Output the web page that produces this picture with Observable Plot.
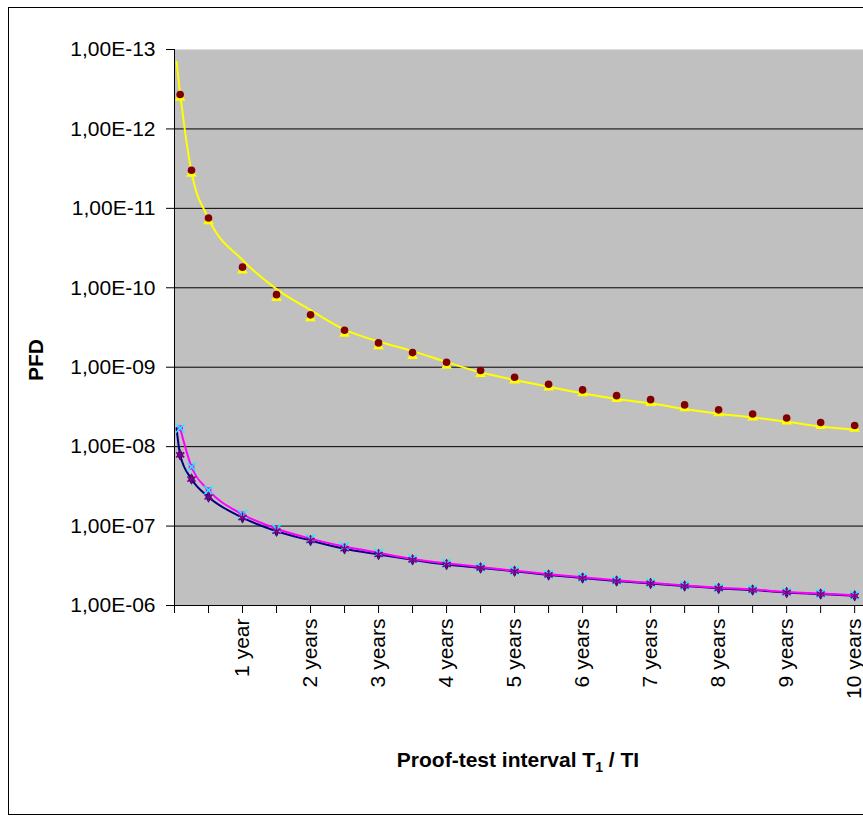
<!DOCTYPE html>
<html><head><meta charset="utf-8">
<script src="https://cdn.jsdelivr.net/npm/d3@7"></script>
<script src="https://cdn.jsdelivr.net/npm/@observablehq/plot@0.6"></script>
<style>
html,body{margin:0;padding:0;overflow:hidden;background:#fff;width:863px;height:823px;}
#chart{position:absolute;left:0;top:0;}
#border{position:absolute;left:8px;top:7px;width:900px;height:808px;border:1px solid #000;box-sizing:border-box;}
.t{position:absolute;font-family:"Liberation Sans",Arial,sans-serif;font-weight:bold;font-size:21px;line-height:21px;color:#000;white-space:nowrap;}
.t sub{font-size:14px;vertical-align:-5px;line-height:0;}
#ylab{left:35px;top:360px;transform:translate(-50%,-50%) rotate(-90deg);}
#xlab{left:518px;top:749px;transform:translateX(-50%);}
</style></head><body>
<div id="border"></div>
<div id="chart"></div>
<div class="t" id="ylab">PFD</div>
<div class="t" id="xlab">Proof-test interval T<sub>1</sub> / TI</div>
<script>
// Proof-test intervals (years) of the plotted points
const intervalsYears = [0.0833, 0.25, 0.5, 1, 1.5, 2, 2.5, 3, 3.5, 4, 4.5, 5, 5.5, 6, 6.5, 7, 7.5, 8, 8.5, 9, 9.5, 10];
// Curves that start slightly before the first point
const curveYears = [0.03, 0.0833, 0.25, 0.5, 1, 1.5, 2, 2.5, 3, 3.5, 4, 4.5, 5, 5.5, 6, 6.5, 7, 7.5, 8, 8.5, 9, 9.5, 10];

// Dark red circles
const redDots = [3.68e-13, 3.32e-12, 1.32e-11, 5.50e-11, 1.22e-10, 2.19e-10, 3.43e-10, 4.94e-10, 6.55e-10, 8.67e-10, 1.10e-9, 1.34e-9, 1.64e-9, 1.93e-9, 2.28e-9, 2.56e-9, 2.98e-9, 3.44e-9, 3.88e-9, 4.36e-9, 4.96e-9, 5.41e-9];
// Yellow triangle markers
const yellowMarkers = [4.05e-13, 3.65e-12, 1.45e-11, 6.05e-11, 1.34e-10, 2.41e-10, 3.77e-10, 5.43e-10, 7.20e-10, 9.54e-10, 1.21e-9, 1.47e-9, 1.80e-9, 2.12e-9, 2.51e-9, 2.82e-9, 3.28e-9, 3.78e-9, 4.27e-9, 4.80e-9, 5.46e-9, 5.95e-9];
// Yellow curve
const yellowCurve = [1.43e-13, 3.58e-13, 3.47e-12, 1.34e-11, 4.46e-11, 1.04e-10, 1.91e-10, 3.36e-10, 4.75e-10, 6.27e-10, 8.6e-10, 1.16e-9, 1.45e-9, 1.76e-9, 2.13e-9, 2.51e-9, 2.85e-9, 3.36e-9, 3.85e-9, 4.29e-9, 4.85e-9, 5.56e-9, 6.12e-9];
// Navy curve (with violet stars)
const navyCurve = [5.85e-9, 1.27e-8, 2.56e-8, 4.30e-8, 7.83e-8, 1.16e-7, 1.52e-7, 1.93e-7, 2.28e-7, 2.66e-7, 3.05e-7, 3.36e-7, 3.71e-7, 4.12e-7, 4.50e-7, 4.91e-7, 5.27e-7, 5.68e-7, 6.09e-7, 6.38e-7, 6.85e-7, 7.17e-7, 7.54e-7];
const navyPoints = [1.27e-8, 2.56e-8, 4.30e-8, 7.83e-8, 1.16e-7, 1.52e-7, 1.93e-7, 2.28e-7, 2.66e-7, 3.05e-7, 3.36e-7, 3.71e-7, 4.12e-7, 4.50e-7, 4.91e-7, 5.27e-7, 5.68e-7, 6.09e-7, 6.38e-7, 6.85e-7, 7.17e-7, 7.54e-7];
// Magenta curve (with cyan crosses)
const magentaPoints = [5.85e-9, 1.79e-8, 3.53e-8, 7.11e-8, 1.08e-7, 1.44e-7, 1.81e-7, 2.17e-7, 2.59e-7, 2.94e-7, 3.28e-7, 3.64e-7, 4.04e-7, 4.42e-7, 4.82e-7, 5.18e-7, 5.58e-7, 5.98e-7, 6.28e-7, 6.74e-7, 7.06e-7, 7.43e-7];

// Axis ticks
const yTicks = [1e-13, 1e-12, 1e-11, 1e-10, 1e-9, 1e-8, 1e-7, 1e-6];
const yTickLabels = ["1,00E-13", "1,00E-12", "1,00E-11", "1,00E-10", "1,00E-09", "1,00E-08", "1,00E-07", "1,00E-06"];
const xTickYears = [0, 0.5, 1, 1.5, 2, 2.5, 3, 3.5, 4, 4.5, 5, 5.5, 6, 6.5, 7, 7.5, 8, 8.5, 9, 9.5, 10];
const xLabelYears = [1, 2, 3, 4, 5, 6, 7, 8, 9, 10];
const xTickLabels = ["1 year", "2 years", "3 years", "4 years", "5 years", "6 years", "7 years", "8 years", "9 years", "10 years"];

const rows = (xs, ys) => xs.map((x, i) => ({x, y: ys[i]}));
const font = "'Liberation Sans', Arial, sans-serif";

const chart = Plot.plot({
  width: 863, height: 823,
  marginLeft: 174, marginRight: 0, marginTop: 49, marginBottom: 218,
  style: {fontFamily: font, fontSize: "21px", background: "transparent", color: "#000", overflow: "visible"},
  x: {domain: [0, 10.13], axis: null},
  y: {type: "log", domain: [1e-13, 1e-6], reverse: true, axis: null},
  marks: [
    Plot.frame({fill: "#c0c0c0", stroke: "none"}),
    Plot.ruleY(yTicks.slice(1, -1), {stroke: "#000", strokeWidth: 1}),
    Plot.ruleX([0], {stroke: "#000", strokeWidth: 1}),
    Plot.ruleY([1e-6], {stroke: "#000", strokeWidth: 1}),
    Plot.axisY({ticks: yTicks, tickSize: 8, tickPadding: 11, label: null, fontSize: 21,
      tickFormat: d => yTickLabels[yTicks.findIndex(t => Math.abs(Math.log10(t) - Math.log10(d)) < 1e-6)]}),
    Plot.axisX({ticks: xTickYears, tickSize: 8, label: null, tickFormat: () => ""}),
    Plot.axisX({ticks: xLabelYears, tickSize: 0, tickPadding: 13, tickRotate: -90, label: null, fontSize: 21,
      tickFormat: d => xTickLabels[xLabelYears.indexOf(d)]}),
    Plot.line(rows(curveYears, navyCurve), {x: "x", y: "y", stroke: "#000080", strokeWidth: 2, curve: "monotone-x"}),
    Plot.line(rows(intervalsYears, magentaPoints), {x: "x", y: "y", stroke: "#ff00ff", strokeWidth: 2, curve: "monotone-x"}),
    Plot.dot(rows(intervalsYears, navyPoints), {x: "x", y: "y", symbol: "diamond", fill: "#000080", r: 3.5}),
    Plot.dot(rows(intervalsYears, magentaPoints), {x: "x", y: "y", symbol: "square", fill: "#ff00ff", r: 3.2}),
    Plot.dot(rows(intervalsYears, magentaPoints), {x: "x", y: "y", symbol: "times", stroke: "#00ffff", strokeWidth: 1.5, r: 4}),
    Plot.dot(rows(intervalsYears, navyPoints), {x: "x", y: "y", symbol: "asterisk", stroke: "#800080", strokeWidth: 1.6, r: 4.5}),
    Plot.line(rows(curveYears, yellowCurve), {x: "x", y: "y", stroke: "#ffff00", strokeWidth: 2, curve: "monotone-x"}),
    Plot.dot(rows(intervalsYears, yellowMarkers), {x: "x", y: "y", symbol: "triangle", fill: "#ffff00", r: 4}),
    Plot.dot(rows(intervalsYears, redDots), {x: "x", y: "y", fill: "#800000", r: 3.8})
  ]
});
document.getElementById("chart").appendChild(chart);
</script>
</body></html>
